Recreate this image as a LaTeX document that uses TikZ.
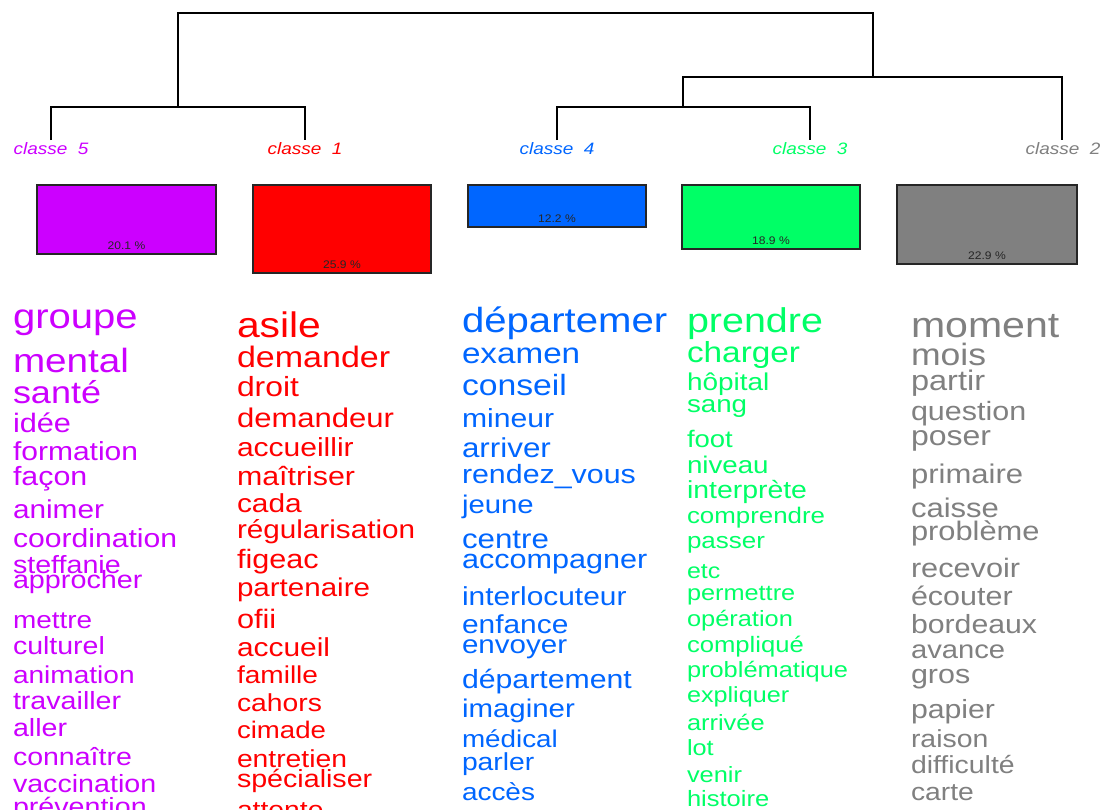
\documentclass[tikz,border=0pt]{standalone}
\usepackage{fontspec}
\usepackage{graphicx}
\setmainfont{Liberation Sans}
\definecolor{cfive}{HTML}{CC00FF}
\definecolor{cone}{HTML}{FF0000}
\definecolor{cfour}{HTML}{0066FF}
\definecolor{cthree}{HTML}{00FF66}
\definecolor{ctwo}{HTML}{808080}
\tikzset{
  wordnode/.style={anchor=base west, inner sep=0pt, outer sep=0pt},
  dendro/.style={line width=1.4pt, black},
  clabel/.style={anchor=base, inner sep=0pt, font=\itshape},
  classbox/.style={draw=black!85, line width=1.3pt, inner sep=0pt, outer sep=0pt},
  pct/.style={anchor=base, inner sep=0pt, text=black!85}
}
\newcommand\wrd[6]{\node[wordnode, text=#5] (#1) at (#2,#3) {\scalebox{1.15}[1]{\fontsize{#4}{#4}\selectfont #6}};}
\newcommand\clab[5]{\node[clabel, text=#4] (#1) at (#2,#3) {\scalebox{1.15}[1]{\fontsize{16.5}{16.5}\selectfont\itshape #5}};}
\newcommand\pctxt[1]{\scalebox{1.1}[1]{\fontsize{11}{11}\selectfont #1}}
\begin{document}
\begin{tikzpicture}[x=1pt,y=-1pt]
\clip (0,0) rectangle (1102,809);
\fill[white] (0,0) rectangle (1102,809);
% dendrogram
\coordinate (l5) at (51,140);
\coordinate (l1) at (305,140);
\coordinate (l4) at (557,140);
\coordinate (l3) at (810,140);
\coordinate (l2) at (1062,140);
\coordinate (n51) at (178,107);
\coordinate (n43) at (683,107);
\coordinate (n432) at (873,77);
\coordinate (root) at (525.5,13);
\draw[dendro] (l5) |- (n51) -| (l1);
\draw[dendro] (l4) |- (n43) -| (l3);
\draw[dendro] (n43) |- (n432) -| (l2);
\draw[dendro] (n51) |- (root) -| (n432);
% class labels
\clab{k5}{51}{154}{cfive}{classe~~5}
\clab{k1}{305}{154}{cone}{classe~~1}
\clab{k4}{557}{154}{cfour}{classe~~4}
\clab{k3}{810}{154}{cthree}{classe~~3}
\clab{k2}{1063}{154}{ctwo}{classe~~2}
% boxes
\node[classbox, fill=cfive, minimum width=179pt, minimum height=69pt] (b5) at (126.5,219.5) {};
\node[classbox, fill=cone, minimum width=178pt, minimum height=88pt] (b1) at (342,229) {};
\node[classbox, fill=cfour, minimum width=178pt, minimum height=42pt] (b4) at (557,206) {};
\node[classbox, fill=cthree, minimum width=178pt, minimum height=64pt] (b3) at (771,217) {};
\node[classbox, fill=ctwo, minimum width=180pt, minimum height=79pt] (b2) at (987,224.5) {};
\node[pct] (p5) at (126.5,249) {\pctxt{20.1 \%}};
\node[pct] (p1) at (342,268.5) {\pctxt{25.9 \%}};
\node[pct] (p4) at (557,222) {\pctxt{12.2 \%}};
\node[pct] (p3) at (771,244.5) {\pctxt{18.9 \%}};
\node[pct] (p2) at (987,259.5) {\pctxt{22.9 \%}};
% column classe 5
\wrd{a1}{13}{328}{34.8}{cfive}{groupe}
\wrd{a2}{13}{372}{33.6}{cfive}{mental}
\wrd{a3}{13}{403}{31.3}{cfive}{santé}
\wrd{a4}{13}{432}{26.7}{cfive}{idée}
\wrd{a5}{13}{460}{26.1}{cfive}{formation}
\wrd{a6}{13}{485}{26.4}{cfive}{façon}
\wrd{a7}{13}{518}{25.9}{cfive}{animer}
\wrd{a8}{13}{547}{26.2}{cfive}{coordination}
\wrd{a9}{13}{573}{24.9}{cfive}{steffanie}
\wrd{a10}{13}{588}{25}{cfive}{approcher}
\wrd{a11}{13}{628}{24.3}{cfive}{mettre}
\wrd{a12}{13}{654}{24.8}{cfive}{culturel}
\wrd{a13}{13}{683}{24.4}{cfive}{animation}
\wrd{a14}{13}{709}{24.9}{cfive}{travailler}
\wrd{a15}{13}{736}{24.9}{cfive}{aller}
\wrd{a16}{13}{765}{24.8}{cfive}{connaître}
\wrd{a17}{13}{792}{24.9}{cfive}{vaccination}
\wrd{a18}{13}{815}{24.9}{cfive}{prévention}
% column classe 1
\wrd{b1w}{237}{337}{35.5}{cone}{asile}
\wrd{b2w}{237}{367}{29.6}{cone}{demander}
\wrd{b3w}{237}{396}{27.7}{cone}{droit}
\wrd{b4w}{237}{427}{27}{cone}{demandeur}
\wrd{b5w}{237}{456}{26.1}{cone}{accueillir}
\wrd{b6w}{237}{485}{26.4}{cone}{maîtriser}
\wrd{b7w}{237}{512}{26}{cone}{cada}
\wrd{b8w}{237}{538}{25.8}{cone}{régularisation}
\wrd{b9w}{237}{568}{26.6}{cone}{figeac}
\wrd{b10w}{237}{596}{25.7}{cone}{partenaire}
\wrd{b11w}{237}{628}{26.7}{cone}{ofii}
\wrd{b12w}{237}{656}{26}{cone}{accueil}
\wrd{b13w}{237}{683}{24.4}{cone}{famille}
\wrd{b14w}{237}{711}{24.6}{cone}{cahors}
\wrd{b15w}{237}{738}{24}{cone}{cimade}
\wrd{b16w}{237}{767}{24.6}{cone}{entretien}
\wrd{b17w}{237}{787}{24.9}{cone}{spécialiser}
\wrd{b18w}{237}{818}{24.6}{cone}{attente}
% column classe 4
\wrd{c1}{462}{332}{34.9}{cfour}{départemer}
\wrd{c2}{462}{363}{28.9}{cfour}{examen}
\wrd{c3}{462}{395}{29.3}{cfour}{conseil}
\wrd{c4}{462}{427}{26.2}{cfour}{mineur}
\wrd{c5}{462}{457}{27.3}{cfour}{arriver}
\wrd{c6}{462}{483}{26.4}{cfour}{rendez\_vous}
\wrd{c7}{462}{513}{25.5}{cfour}{jeune}
\wrd{c8}{462}{548}{27.2}{cfour}{centre}
\wrd{c9}{462}{568}{26.6}{cfour}{accompagner}
\wrd{c10}{462}{605}{26}{cfour}{interlocuteur}
\wrd{c11}{462}{633}{26}{cfour}{enfance}
\wrd{c12}{462}{653}{25.7}{cfour}{envoyer}
\wrd{c13}{462}{688}{26.3}{cfour}{département}
\wrd{c14}{462}{717}{25.6}{cfour}{imaginer}
\wrd{c15}{462}{747}{24.2}{cfour}{médical}
\wrd{c16}{462}{770}{24.6}{cfour}{parler}
\wrd{c17}{462}{800}{24.3}{cfour}{accès}
% column classe 3
\wrd{d1}{687}{332}{34.3}{cthree}{prendre}
\wrd{d2}{687}{362}{29}{cthree}{charger}
\wrd{d3}{687}{390}{24.3}{cthree}{hôpital}
\wrd{d4}{687}{412}{24.1}{cthree}{sang}
\wrd{d5}{687}{447}{23.9}{cthree}{foot}
\wrd{d6}{687}{473}{24.1}{cthree}{niveau}
\wrd{d7}{687}{498}{24.7}{cthree}{interprète}
\wrd{d8}{687}{523}{22.5}{cthree}{comprendre}
\wrd{d9}{687}{548}{22.6}{cthree}{passer}
\wrd{d10}{687}{578}{21.7}{cthree}{etc}
\wrd{d11}{687}{600}{22}{cthree}{permettre}
\wrd{d12}{687}{626}{22.1}{cthree}{opération}
\wrd{d13}{687}{652}{22.3}{cthree}{compliqué}
\wrd{d14}{687}{677}{22.1}{cthree}{problématique}
\wrd{d15}{687}{702}{21.9}{cthree}{expliquer}
\wrd{d16}{687}{730}{22.1}{cthree}{arrivée}
\wrd{d17}{687}{755}{22}{cthree}{lot}
\wrd{d18}{687}{782}{22.1}{cthree}{venir}
\wrd{d19}{687}{806}{22.2}{cthree}{histoire}
% column classe 2
\wrd{e1}{911}{337}{35.7}{ctwo}{moment}
\wrd{e2}{911}{365}{30.9}{ctwo}{mois}
\wrd{e3}{911}{390}{28.3}{ctwo}{partir}
\wrd{e4}{911}{420}{26.5}{ctwo}{question}
\wrd{e5}{911}{445}{27.8}{ctwo}{poser}
\wrd{e6}{911}{483}{27}{ctwo}{primaire}
\wrd{e7}{911}{517}{27}{ctwo}{caisse}
\wrd{e8}{911}{540}{26.8}{ctwo}{problème}
\wrd{e9}{911}{577}{26.7}{ctwo}{recevoir}
\wrd{e10}{911}{605}{26.5}{ctwo}{écouter}
\wrd{e11}{911}{633}{26.3}{ctwo}{bordeaux}
\wrd{e12}{911}{658}{25.4}{ctwo}{avance}
\wrd{e13}{911}{683}{26.5}{ctwo}{gros}
\wrd{e14}{911}{718}{26.3}{ctwo}{papier}
\wrd{e15}{911}{747}{24.7}{ctwo}{raison}
\wrd{e16}{911}{773}{24.7}{ctwo}{difficulté}
\wrd{e17}{911}{800}{24.6}{ctwo}{carte}
\end{tikzpicture}
\end{document}
